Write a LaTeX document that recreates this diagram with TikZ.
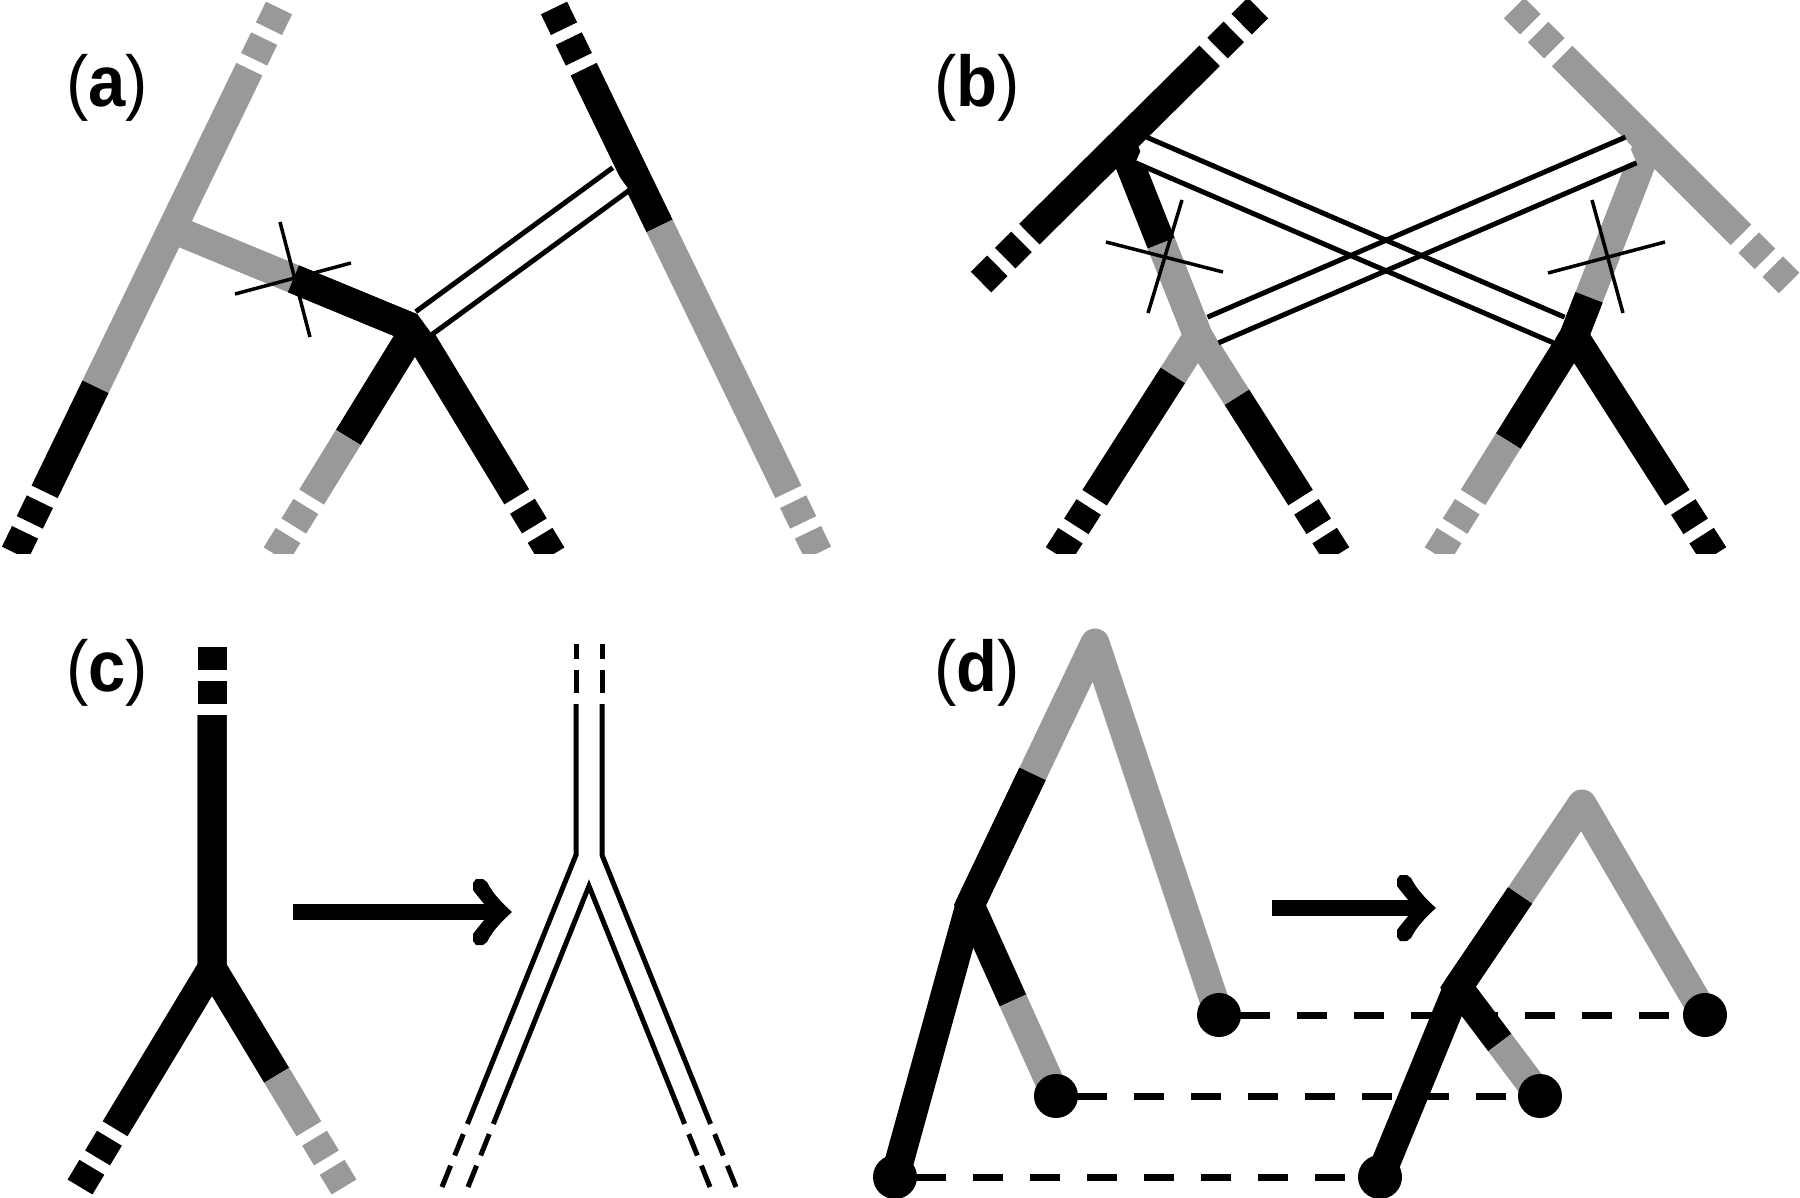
\documentclass[tikz,border=0pt]{standalone}
\usepackage{fontspec}
\setsansfont{Liberation Sans}
\usetikzlibrary{calc}
\definecolor{grayc}{gray}{0.6}
\newcommand{\plab}[1]{\mdseries(\bfseries#1\mdseries)}
\begin{document}
\begin{tikzpicture}[x=1pt,y=-1pt,
  thk/.style={line width=29pt,line cap=butt,line join=miter},
  blk/.style={thk,draw=black},
  gry/.style={thk,draw=grayc},
  endtip/.style={dash pattern=on 23pt off 11pt,dash phase=23pt},
  xline/.style={draw=black,line width=3.5pt},
  conn/.style={draw=black,line width=5pt},
  core/.style={draw=white,line width=23pt},
  thinl/.style={draw=black,line width=5pt,line join=miter},
  dashl/.style={draw=black,line width=7pt,dash pattern=on 30pt off 27pt},
  shaft/.style={draw=black,line width=16pt,line cap=butt},
  bighead/.pic={\fill[black] (1,0) .. controls (-8,-8) and (-18,-18) .. (-24,-30)
      -- (-28,-33) -- (-35,-33) -- (-38,-29) -- (-38,-22)
      .. controls (-32,-14) and (-26,-7) .. (-20,0)
      .. controls (-26,7) and (-32,14) .. (-38,22)
      -- (-38,29) -- (-35,33) -- (-28,33) -- (-24,30)
      .. controls (-18,18) and (-8,8) .. (1,0) -- cycle;},
  lab/.style={font=\sffamily\fontsize{72}{80}\selectfont,inner sep=0pt,xscale=0.93},
  blackdot/.style={fill=black}
]
\useasboundingbox (0,0) rectangle (1800,1198);

%================ panel (a) and (b) =================
\begin{scope}
\clip (0,0) rectangle (1800,553);
% ---- (a) left line
\coordinate (aLt) at (279,8); \coordinate (aLb) at (15,553);
\coordinate (aLts) at ($(aLt)!68pt!(aLb)$); \coordinate (aLbs) at ($(aLb)!68pt!(aLt)$);
\coordinate (aLcc) at ($(aLt)!0.695!(aLb)$);
\coordinate (aJ) at ($(aLt)!0.405!(aLb)$);
\draw[gry] (aLts) -- (aLcc);
\draw[blk] (aLcc) -- (aLbs);
\draw[gry,endtip] (aLts) -- (aLt);
\draw[blk,endtip] (aLbs) -- (aLb);
% ---- (a) right line
\coordinate (aRt) at (554,8); \coordinate (aRb) at (818,553);
\coordinate (aRts) at ($(aRt)!68pt!(aRb)$); \coordinate (aRbs) at ($(aRb)!68pt!(aRt)$);
\coordinate (aRcc) at ($(aRt)!0.4!(aRb)$);
\draw[blk] (aRts) -- (aRcc);
\draw[gry] (aRcc) -- (aRbs);
\draw[blk,endtip] (aRts) -- (aRt);
\draw[gry,endtip] (aRbs) -- (aRb);
% ---- (a) inner tree
\coordinate (aN) at (415,329);
\coordinate (aBcc) at ($(aJ)!0.5!(aN)$);
\coordinate (aCl) at (276,555); \coordinate (aCr) at (552,555);
\coordinate (aClcc) at ($(aN)!0.48!(aCl)$);
\coordinate (aCls) at ($(aCl)!68pt!(aN)$); \coordinate (aCrs) at ($(aCr)!68pt!(aN)$);
\draw[gry] (aJ) -- (aBcc);
\draw[blk] (aBcc) -- (aN) -- (aClcc);
\draw[blk] (aBcc) -- (aN) -- (aCrs);
\draw[gry] (aClcc) -- (aCls);
\draw[gry,endtip] (aCls) -- (aCl);
\draw[blk,endtip] (aCrs) -- (aCr);
% ---- (a) cross
\draw[xline] (280,222) -- (310,337);
\draw[xline] (235,294) -- (351,263);
% ---- (a) connector
\coordinate (aK1) at (424,323); \coordinate (aK2) at (621,179);
\draw[core] (aK1) -- (aK2);
\draw[conn] ($(aK1)!14pt!90:(aK2)$) -- ($(aK2)!14pt!-90:(aK1)$);
\draw[conn] ($(aK1)!14pt!-90:(aK2)$) -- ($(aK2)!14pt!90:(aK1)$);

% ---- (b) black long line
\coordinate (bLt) at (1258,8); \coordinate (bLb) at (981,282);
\coordinate (bLts) at ($(bLt)!68pt!(bLb)$); \coordinate (bLbs) at ($(bLb)!68pt!(bLt)$);
\coordinate (bN1) at ($(bLt)!0.493!(bLb)$);
\draw[blk] (bLts) -- (bLbs);
\draw[blk,endtip] (bLts) -- (bLt);
\draw[blk,endtip] (bLbs) -- (bLb);
% ---- (b) gray long line
\coordinate (bGt) at (1514,8); \coordinate (bGb) at (1789,283);
\coordinate (bGts) at ($(bGt)!68pt!(bGb)$); \coordinate (bGbs) at ($(bGb)!68pt!(bGt)$);
\coordinate (bN3) at ($(bGt)!0.491!(bGb)$);
\draw[gry] (bGts) -- (bGbs);
\draw[gry,endtip] (bGts) -- (bGt);
\draw[gry,endtip] (bGbs) -- (bGb);
% ---- (b) lower left tree
\coordinate (bN2) at (1198,336);
\coordinate (bU1cc) at ($(bN1)!0.52!(bN2)$);
\coordinate (bCl) at (1058,555); \coordinate (bCr) at (1337,555);
\coordinate (bClcc) at ($(bN2)!0.18!(bCl)$); \coordinate (bCrcc) at ($(bN2)!0.28!(bCr)$);
\coordinate (bCls) at ($(bCl)!68pt!(bN2)$); \coordinate (bCrs) at ($(bCr)!68pt!(bN2)$);
\draw[blk] (bN1) -- (bU1cc);
\draw[gry] (bU1cc) -- (bN2) -- (bClcc);
\draw[gry] (bU1cc) -- (bN2) -- (bCrcc);
\draw[blk] (bClcc) -- (bCls);
\draw[blk] (bCrcc) -- (bCrs);
\draw[blk,endtip] (bCls) -- (bCl);
\draw[blk,endtip] (bCrs) -- (bCr);
% ---- (b) lower right tree
\coordinate (bN4) at (1574,336);
\coordinate (bU2cc) at ($(bN3)!0.80!(bN4)$);
\coordinate (bDl) at (1437,555); \coordinate (bDr) at (1714,555);
\coordinate (bDlcc) at ($(bN4)!0.48!(bDl)$);
\coordinate (bDls) at ($(bDl)!68pt!(bN4)$); \coordinate (bDrs) at ($(bDr)!68pt!(bN4)$);
\draw[gry] (bN3) -- (bU2cc);
\draw[blk] (bU2cc) -- (bN4) -- (bDlcc);
\draw[blk] (bU2cc) -- (bN4) -- (bDrs);
\draw[gry] (bDlcc) -- (bDls);
\draw[gry,endtip] (bDls) -- (bDl);
\draw[blk,endtip] (bDrs) -- (bDr);
% ---- (b) crosses
\draw[xline] (1182,200) -- (1148,313);
\draw[xline] (1106,242) -- (1223,272);
\draw[xline] (1592,200) -- (1623,313);
\draw[xline] (1548,273) -- (1665,242);
% ---- (b) connectors
\coordinate (bK1) at (1141,150); \coordinate (bK2) at (1559,330);
\coordinate (bK3) at (1631,150); \coordinate (bK4) at (1213,330);
\draw[core] (bK1) -- (bK2);
\draw[core] (bK3) -- (bK4);
\draw[conn] ($(bK1)!14pt!90:(bK2)$) -- ($(bK2)!14pt!-90:(bK1)$);
\draw[conn] ($(bK1)!14pt!-90:(bK2)$) -- ($(bK2)!14pt!90:(bK1)$);
\draw[conn] ($(bK3)!14pt!90:(bK4)$) -- ($(bK4)!14pt!-90:(bK3)$);
\draw[conn] ($(bK3)!14pt!-90:(bK4)$) -- ($(bK4)!14pt!90:(bK3)$);
\end{scope}

%================ panel (c) =================
\coordinate (cSt) at (212,647); \coordinate (cN) at (212,968);
\coordinate (cL) at (80,1187); \coordinate (cR) at (344,1187);
\coordinate (cSts) at ($(cSt)!68pt!(cN)$);
\coordinate (cLs) at ($(cL)!68pt!(cN)$); \coordinate (cRs) at ($(cR)!68pt!(cN)$);
\coordinate (cRcc) at ($(cN)!0.49!(cR)$);
\draw[blk] (cSts) -- (cN) -- (cLs);
\draw[blk] (cSts) -- (cN) -- (cRcc);
\draw[gry] (cRcc) -- (cRs);
\draw[blk,endtip] (cSts) -- (cSt);
\draw[blk,endtip] (cLs) -- (cL);
\draw[gry,endtip] (cRs) -- (cR);
% arrow (c)
\coordinate (cA1) at (293,912); \coordinate (cA2) at (511,912);
\draw[shaft] (cA1) -- ($(cA2)+(-16,0)$);
\pic at (cA2) {bighead};
% double tree
\coordinate (oLt) at (576,644); \coordinate (oLm) at (576,855); \coordinate (oLe) at (442,1187);
\coordinate (oRt) at (602,644); \coordinate (oRm) at (602,855); \coordinate (oRe) at (736,1187);
\coordinate (iAp) at (589,886); \coordinate (iLe) at (468,1187); \coordinate (iRe) at (710,1187);
\draw[thinl] ($(oLt)!60pt!(oLm)$) -- (oLm) -- ($(oLe)!68pt!(oLm)$);
\draw[thinl] ($(oRt)!60pt!(oRm)$) -- (oRm) -- ($(oRe)!68pt!(oRm)$);
\draw[thinl] ($(iLe)!68pt!(iAp)$) -- (iAp) -- ($(iRe)!68pt!(iAp)$);
\draw[thinl,endtip] ($(oLt)!60pt!(oLm)$) -- (oLt);
\draw[thinl,endtip] ($(oRt)!60pt!(oRm)$) -- (oRt);
\draw[thinl,endtip] ($(oLe)!68pt!(oLm)$) -- (oLe);
\draw[thinl,endtip] ($(oRe)!68pt!(oRm)$) -- (oRe);
\draw[thinl,endtip] ($(iLe)!68pt!(iAp)$) -- (iLe);
\draw[thinl,endtip] ($(iRe)!68pt!(iAp)$) -- (iRe);

%================ panel (d) =================
\coordinate (dA1) at (1095,643); \coordinate (dD1) at (970,905);
\coordinate (dBL) at (895,1177); \coordinate (dM1) at (1056,1096); \coordinate (dT1) at (1219,1015);
\coordinate (dA2) at (1582,804); \coordinate (dD2) at (1458,987);
\coordinate (dBR) at (1380,1177); \coordinate (dM2) at (1540,1096); \coordinate (dT2) at (1705,1015);
% dashed links
\draw[dashl] ($(dT1)+(21,0)$) -- (dT2);
\draw[dashl] ($(dM1)+(21,0)$) -- (dM2);
\draw[dashl] ($(dBL)+(21,0)$) -- (dBR);
% left tree
\coordinate (dcc1) at ($(dA1)!0.5!(dD1)$);
\coordinate (dccm1) at ($(dD1)!0.5!(dM1)$);
\draw[gry,line join=round] (dT1) -- (dA1) -- (dcc1);
\draw[blk] (dcc1) -- (dD1) -- (dBL);
\draw[blk] (dcc1) -- (dD1) -- (dccm1);
\draw[gry] (dccm1) -- (dM1);
% right tree
\coordinate (dcc2) at ($(dA2)!0.5!(dD2)$);
\coordinate (dccm2) at ($(dD2)!0.51!(dM2)$);
\draw[gry,line join=round] (dT2) -- (dA2) -- (dcc2);
\draw[blk] (dcc2) -- (dD2) -- (dBR);
\draw[blk] (dcc2) -- (dD2) -- (dccm2);
\draw[gry] (dccm2) -- (dM2);
% dots
\foreach \p in {dT1,dM1,dBL,dT2,dM2,dBR} \fill[blackdot] (\p) circle[radius=22pt];
% arrow (d)
\coordinate (dAr1) at (1272,908); \coordinate (dAr2) at (1435,908);
\draw[shaft] (dAr1) -- ($(dAr2)+(-16,0)$);
\pic at (dAr2) {bighead};

%================ labels =================
\node[lab] (la) at (107,88) {\plab{a}};
\node[lab] (lb) at (977,88) {\plab{b}};
\node[lab] (lc) at (107,673) {\plab{c}};
\node[lab] (ld) at (977,673) {\plab{d}};
\end{tikzpicture}
\end{document}
